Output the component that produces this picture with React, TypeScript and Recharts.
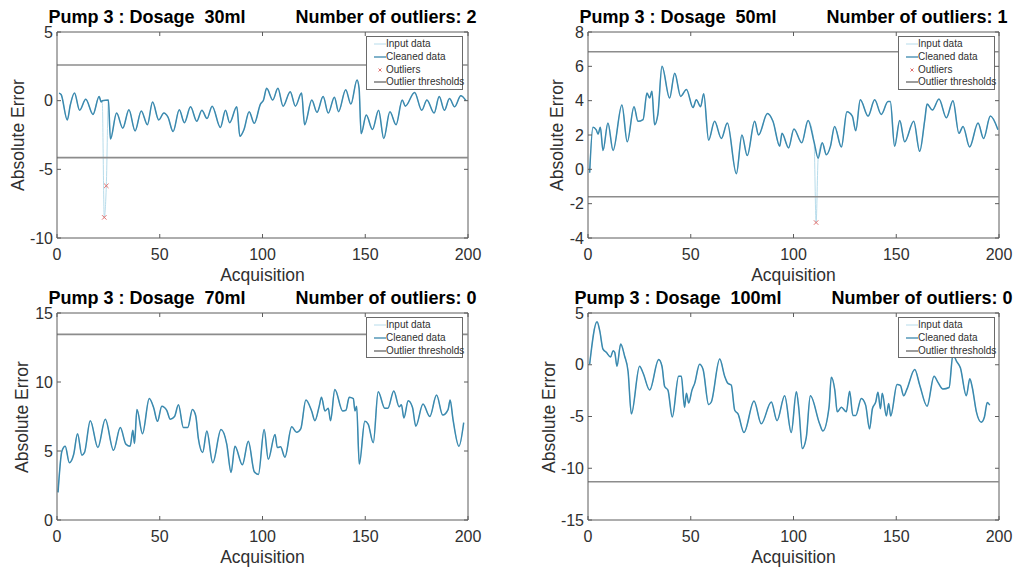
import React from "react";
import { ComposedChart, Line, XAxis, YAxis, ReferenceLine } from "recharts";

type Pt = [number, number];

const ACQ_TICKS = [0, 50, 100, 150, 200];

// Pump 3, 30 ml  (acquisition, absolute error)
const cleaned30: Pt[] = [
  [1, 0.55], [2, 0.45], [5, -1.4], [6.5, -0.3], [8.5, 0.55], [11, -0.7], [14, 0.1], [17.5, -1.0],
  [20.5, 0.3], [21.5, -0.1], [22, 0.0], [25, 0.05], [26, -2.8], [29, -0.9], [32, -2.0], [35, -0.67],
  [38, -2.2], [41, -0.75], [44, -1.75], [46.5, -0.1], [49.5, -1.4], [52, -0.9], [54, -1.2], [56.5, -2.25],
  [59.5, -0.67], [62, -1.6], [65, -0.45], [68, -1.5], [70.5, -0.7], [73, -1.3], [75.5, -0.4], [79.5, -1.95],
  [82, -0.7], [84, -1.6], [87.5, -0.45], [89, -2.6], [91, -2.1], [93.5, -0.8], [96, -1.65], [99, -0.25],
  [100.5, 0.05], [102, 0.9], [105, 0.05], [107.5, 0.9], [110, -0.4], [113.5, 0.65], [116, -0.4], [119, 0.55],
  [120.5, -1.75], [124, 0.05], [126.5, -0.85], [129.5, 0.3], [132, -0.9], [135, 0.25], [137, -0.8], [140.5, 0.8],
  [143, -0.25], [146, 1.5], [147, 0.9], [148, -2.4], [150.5, -1.05], [153.5, -2.1], [156.5, -0.7], [159, -2.75],
  [162, -0.8], [165, -1.75], [168, 0.05], [169.5, -0.4], [174, 0.6], [177.5, -0.7], [180, 0.05], [183.5, -0.9],
  [186, 0.3], [188.5, -0.7], [191, 0.15], [193.5, -0.45], [196.5, 0.35], [199, 0.0],
];
const outliers30: Pt[] = [[23, -8.5], [24, -6.2]];
const limits30 = [2.6, -4.15];
const ticks30 = [-10, -5, 0, 5];

// Pump 3, 50 ml
const cleaned50: Pt[] = [
  [0.8, -0.2], [2.4, 2.45], [4, 2.3], [4.9, 2.05], [6, 2.45], [7.3, 1.1], [9.7, 2.7], [12.2, 1.1],
  [16.5, 3.75], [19.1, 1.6], [22.4, 3.65], [24.3, 2.8], [26.8, 2.9], [28.7, 4.45], [30, 4.15], [31.1, 4.55],
  [32.4, 2.6], [34, 3.2], [36, 6.0], [39.7, 4.15], [42.2, 5.6], [45.1, 4.25], [47.9, 4.65], [51.1, 3.6],
  [52.7, 4.05], [54.8, 3.65], [56.3, 4.4], [58.7, 1.7], [61.6, 2.8], [64.9, 1.8], [67.8, 2.7], [72.2, -0.25],
  [74.9, 2.0], [77.5, 0.8], [81.1, 2.8], [83, 2.0], [87.3, 3.25], [90, 2.8], [93.3, 1.35], [94.4, 2.1],
  [97.6, 1.25], [100.2, 2.35], [104, 1.55], [107.1, 2.85], [110, 1.6], [112, 0.65], [114, 1.55], [116, 0.85],
  [118, 1.35], [120, 2.5], [123.3, 1.3], [126, 3.35], [128.6, 3.1], [130.3, 2.25], [132.5, 4.05], [136.3, 3.1],
  [139.5, 4.05], [142.7, 3.2], [146, 3.95], [147.1, 3.95], [149.2, 1.35], [151.7, 2.85], [154.1, 1.6], [158.5, 2.8],
  [161.4, 1.05], [163.9, 2.9], [165, 3.8], [167.6, 3.45], [170.8, 4.1], [174.4, 3.0], [177.6, 4.0], [180.5, 2.1],
  [182.5, 2.5], [185.7, 1.3], [189.8, 2.7], [192.5, 1.8], [195.8, 3.1], [199.5, 2.3],
];
const outliers50: Pt[] = [[111, -3.1]];
const limits50 = [6.85, -1.6];
const ticks50 = [-4, -2, 0, 2, 4, 6, 8];

// Pump 3, 70 ml
const cleaned70: Pt[] = [
  [0.5, 2.0], [2.4, 5.0], [4, 5.35], [6, 4.15], [8.1, 4.75], [10, 6.25], [12.1, 4.7], [13.4, 4.9],
  [16.2, 7.2], [19.9, 5.25], [23.5, 7.3], [27.5, 5.05], [30.8, 6.7], [33.5, 5.5], [35.6, 5.35], [36.9, 6.5],
  [37.7, 5.55], [38.9, 8.0], [41.6, 6.25], [44.9, 8.8], [47, 8.15], [48.9, 7.15], [51, 8.25], [53.4, 7.95],
  [55.1, 7.3], [57.2, 7.5], [59.1, 8.35], [61.5, 6.7], [63.6, 6.7], [65.9, 8.0], [67.5, 7.55], [68.8, 5.9],
  [70.9, 4.9], [72.9, 6.45], [75.8, 4.15], [79.8, 6.55], [82.6, 5.5], [84.7, 3.45], [86.6, 5.35], [90.2, 4.0],
  [93.1, 5.7], [96, 3.5], [98, 3.3], [100.8, 6.55], [102.8, 4.4], [106.1, 6.2], [107.2, 5.25], [108.8, 5.3],
  [110.9, 4.55], [114.2, 6.75], [116.6, 6.35], [118.6, 6.6], [121.1, 8.7], [123.9, 7.9], [125.5, 7.2], [127.6, 8.25],
  [128.7, 8.9], [130.4, 7.9], [132, 8.1], [133.1, 7.2], [135.2, 9.45], [139, 7.9], [140.6, 7.95], [142.2, 8.9],
  [144.2, 8.8], [145, 7.9], [145.8, 8.25], [147.1, 4.05], [149.8, 7.15], [151.4, 6.95], [153.9, 5.6], [156.3, 9.3],
  [159.5, 8.1], [161, 8.1], [163.9, 9.35], [166.5, 8.2], [167.6, 8.35], [168.8, 7.4], [170.9, 8.65], [173, 8.15],
  [174.6, 6.8], [178.1, 8.4], [181.4, 7.5], [184.7, 9.05], [187.7, 7.6], [190.3, 8.0], [191.3, 8.7], [192.7, 7.3],
  [195.6, 5.35], [197.9, 7.05],
];
const outliers70: Pt[] = [];
const limits70 = [13.45];
const ticks70 = [0, 5, 10, 15];

// Pump 3, 100 ml
const cleaned100: Pt[] = [
  [0.8, 0.05], [4.4, 4.15], [5.7, 3.3], [7.3, 1.5], [8.9, 1.2], [11, 0.75], [12.2, 1.35], [13, 1.2],
  [14.1, -0.15], [15.9, 2.0], [17.8, 0.85], [19.5, -0.65], [21.1, -4.75], [25.1, -0.15], [26.8, -0.8], [30, -2.45],
  [34.4, 0.5], [36, -0.15], [37.3, -2.1], [38.9, -2.45], [41, -5.05], [44.1, -1.1], [45.4, -1.1], [47, -4.1],
  [47.9, -2.75], [49, -3.7], [50.6, -2.45], [51.9, -1.8], [54.3, 0.05], [56, -0.45], [58.7, -3.85], [60, -3.6],
  [64.1, 0.55], [66.5, -1.1], [68.1, -1.8], [69.7, -1.95], [71.4, -4.4], [73, -4.75], [75.9, -6.55], [80.8, -3.5],
  [84.3, -5.7], [89.2, -3.6], [92, -5.4], [95.7, -3.0], [98.9, -6.55], [101.4, -2.6], [102.6, -4.25], [104.3, -8.1],
  [106.2, -7.05], [108.2, -3.0], [112.7, -5.7], [114.3, -6.4], [117.3, -4.1], [118.4, -1.2], [120.1, -2.45], [121.3, -4.55],
  [123.3, -4.1], [125.7, -4.55], [127.3, -2.55], [128.9, -4.9], [130.3, -4.9], [133, -3.25], [135.1, -3.9], [137, -6.2],
  [138.4, -4.25], [140, -3.6], [141.1, -2.65], [142.3, -4.25], [143.2, -2.75], [145.2, -4.95], [146.3, -3.75], [147.3, -4.95],
  [150.4, -1.9], [152, -2.0], [153.6, -3.0], [155.2, -2.35], [159, -0.45], [161.4, -1.95], [165, -4.0], [168.4, -1.1],
  [170.3, -1.7], [172.7, -2.35], [175.7, -2.2], [177.6, 1.0], [179.3, 0.35], [181.2, -0.3], [184.1, -3.0], [185.8, -1.35],
  [187, -2.2], [189, -4.55], [191.4, -5.55], [192.9, -5.05], [194.3, -3.65], [195.5, -3.9],
];
const outliers100: Pt[] = [];
const limits100 = [-11.3];
const ticks100 = [-15, -10, -5, 0, 5];

const AXIS = "#5c5c5c";
const TEXT = "#303030";
const INPUT_C = "#b7dceb";
const CLEAN_C = "#3b89ae";
const LIMIT_C = "#8c8c8c";
const OUT_C = "#e0716f";
const FONT = "'Liberation Sans', Arial, Helvetica, sans-serif";
const PLOT_W = 411;

const toRows = (pts: Pt[]) => pts.map(([x, y]) => ({ x, y }));

const XMark = (p: any) => {
  const { cx, cy, index } = p;
  if (cx == null || cy == null) return <g key={`o${index}`} />;
  const s = 2.2;
  return (
    <path
      key={`o${index}`}
      d={`M${cx - s},${cy - s}L${cx + s},${cy + s}M${cx - s},${cy + s}L${cx + s},${cy - s}`}
      stroke={OUT_C}
      strokeWidth={1}
      fill="none"
    />
  );
};

function LegendBox({ left, top, hasOutliers }: { left: number; top: number; hasOutliers: boolean }) {
  const items = [
    { label: "Input data", kind: "input" },
    { label: "Cleaned data", kind: "clean" },
    ...(hasOutliers ? [{ label: "Outliers", kind: "out" }] : []),
    { label: "Outlier thresholds", kind: "limit" },
  ];
  const rowH = 12.8;
  return (
    <div
      style={{
        position: "absolute", left, top, width: 97, height: items.length * rowH + 2.5,
        border: "1px solid #6a6a6a", background: "#fff", boxSizing: "border-box",
        fontFamily: FONT, fontSize: 10, color: TEXT,
      }}
    >
      {items.map((it, i) => (
        <div key={it.label} style={{ position: "absolute", left: 0, top: 1 + i * rowH, height: 12, width: 96 }}>
          <svg width={20} height={12} style={{ position: "absolute", left: 0, top: 0 }}>
            {it.kind === "out" ? (
              <path d="M11.5,4.5L14.5,7.5M11.5,7.5L14.5,4.5" stroke={OUT_C} strokeWidth={1} />
            ) : (
              <line
                x1={7} x2={19} y1={6} y2={6}
                stroke={it.kind === "input" ? INPUT_C : it.kind === "clean" ? CLEAN_C : "#666"}
                strokeWidth={it.kind === "input" ? 1 : 1.3}
              />
            )}
          </svg>
          <span style={{ position: "absolute", left: 19, top: 0, lineHeight: "12px", whiteSpace: "nowrap" }}>
            {it.label}
          </span>
        </div>
      ))}
    </div>
  );
}

interface PanelProps {
  plotLeft: number;
  plotTop: number;
  plotH: number;
  dose: string;
  cleaned: Pt[];
  outliers: Pt[];
  limits: number[];
  yTicks: number[];
  yLabelX: number;
  legendLeft: number;
}

function Panel({ plotLeft, plotTop, plotH, dose, cleaned, outliers, limits, yTicks, yLabelX, legendLeft }: PanelProps) {
  const yMin = yTicks[0];
  const yMax = yTicks[yTicks.length - 1];
  const input = toRows([...cleaned, ...outliers].sort((a, b) => a[0] - b[0]));
  const clean = toRows(cleaned);
  const outs = toRows(outliers);

  const xTick = (p: any) => (
    <g key={`x${p.index}`}>
      <line x1={p.x} x2={p.x} y1={p.y} y2={p.y - 4} stroke={AXIS} />
      <line x1={p.x} x2={p.x} y1={p.y - plotH} y2={p.y - plotH + 4} stroke={AXIS} />
      <text x={p.x} y={p.y + 16} textAnchor="middle" dominantBaseline="central"
        fontFamily={FONT} fontSize={16} fill={TEXT}>
        {p.payload.value}
      </text>
    </g>
  );
  const yTick = (p: any) => (
    <g key={`y${p.index}`}>
      <line x1={p.x} x2={p.x + 4} y1={p.y} y2={p.y} stroke={AXIS} />
      <line x1={p.x + PLOT_W} x2={p.x + PLOT_W - 4} y1={p.y} y2={p.y} stroke={AXIS} />
      <text x={p.x - 4} y={p.y} textAnchor="end" dominantBaseline="central"
        fontFamily={FONT} fontSize={16} fill={TEXT}>
        {p.payload.value}
      </text>
    </g>
  );

  const cx = plotLeft + PLOT_W / 2;
  const plotBottom = plotTop + plotH;

  return (
    <>
      <div style={{ position: "absolute", left: plotLeft - 50, top: plotTop - 10 }}>
        <ComposedChart width={PLOT_W + 80} height={plotH + 50} margin={{ top: 10, right: 30, bottom: 0, left: 0 }}>
          <XAxis
            type="number" dataKey="x" domain={[0, 200]} ticks={ACQ_TICKS} interval={0}
            allowDataOverflow height={40} tickSize={0} tickMargin={0} tickLine={false}
            axisLine={{ stroke: AXIS }} tick={xTick}
          />
          <YAxis
            type="number" domain={[yMin, yMax]} ticks={yTicks} interval={0}
            allowDataOverflow width={50} tickSize={0} tickMargin={0} tickLine={false}
            axisLine={{ stroke: AXIS }} tick={yTick}
          />
          <ReferenceLine y={yMax} stroke={AXIS} />
          <ReferenceLine x={200} stroke={AXIS} />
          <Line data={input} dataKey="y" type="monotone" stroke={INPUT_C} strokeWidth={1}
            dot={false} activeDot={false} isAnimationActive={false} />
          <Line data={clean} dataKey="y" type="monotone" stroke={CLEAN_C} strokeWidth={1.5}
            dot={false} activeDot={false} isAnimationActive={false} />
          {outs.length > 0 && (
            <Line data={outs} dataKey="y" stroke="none" dot={XMark} activeDot={false}
              isAnimationActive={false} />
          )}
          {limits.map((v) => (
            <ReferenceLine key={v} y={v} stroke={LIMIT_C} strokeWidth={1.6} />
          ))}
        </ComposedChart>
      </div>

      <div
        style={{
          position: "absolute", left: cx, top: plotTop - 22, transform: "translateX(-50%)",
          display: "flex", gap: 50, whiteSpace: "pre", fontFamily: FONT, fontWeight: 700,
          fontSize: 18, lineHeight: "14px", color: "#000",
        }}
      >
        <span>{`Pump 3 : Dosage  ${dose}`}</span>
        <span>{`Number of outliers: ${outliers.length}`}</span>
      </div>

      <div
        style={{
          position: "absolute", left: yLabelX, top: plotTop + plotH / 2,
          transform: "translate(-50%, -50%) rotate(-90deg)", whiteSpace: "nowrap",
          fontFamily: FONT, fontSize: 17.5, lineHeight: "18px", color: TEXT,
        }}
      >
        Absolute Error
      </div>

      <div
        style={{
          position: "absolute", left: cx, top: plotBottom + 37 - 9, transform: "translateX(-50%)",
          whiteSpace: "nowrap", fontFamily: FONT, fontSize: 17.5, lineHeight: "18px", color: TEXT,
        }}
      >
        Acquisition
      </div>

      <LegendBox left={legendLeft} top={plotTop + 4} hasOutliers={outliers.length > 0} />
    </>
  );
}

export default function App() {
  return (
    <div style={{ position: "absolute", left: 0, top: 0, width: 1021, height: 571, background: "#fff", overflow: "hidden" }}>
      <Panel plotLeft={57} plotTop={32} plotH={206} dose="30ml" cleaned={cleaned30} outliers={outliers30}
        limits={limits30} yTicks={ticks30} yLabelX={18} legendLeft={366} />
      <Panel plotLeft={588} plotTop={32} plotH={206} dose="50ml" cleaned={cleaned50} outliers={outliers50}
        limits={limits50} yTicks={ticks50} yLabelX={557} legendLeft={898} />
      <Panel plotLeft={57} plotTop={313} plotH={207} dose="70ml" cleaned={cleaned70} outliers={outliers70}
        limits={limits70} yTicks={ticks70} yLabelX={22} legendLeft={366} />
      <Panel plotLeft={588} plotTop={313} plotH={207} dose="100ml" cleaned={cleaned100} outliers={outliers100}
        limits={limits100} yTicks={ticks100} yLabelX={549} legendLeft={898} />
    </div>
  );
}
